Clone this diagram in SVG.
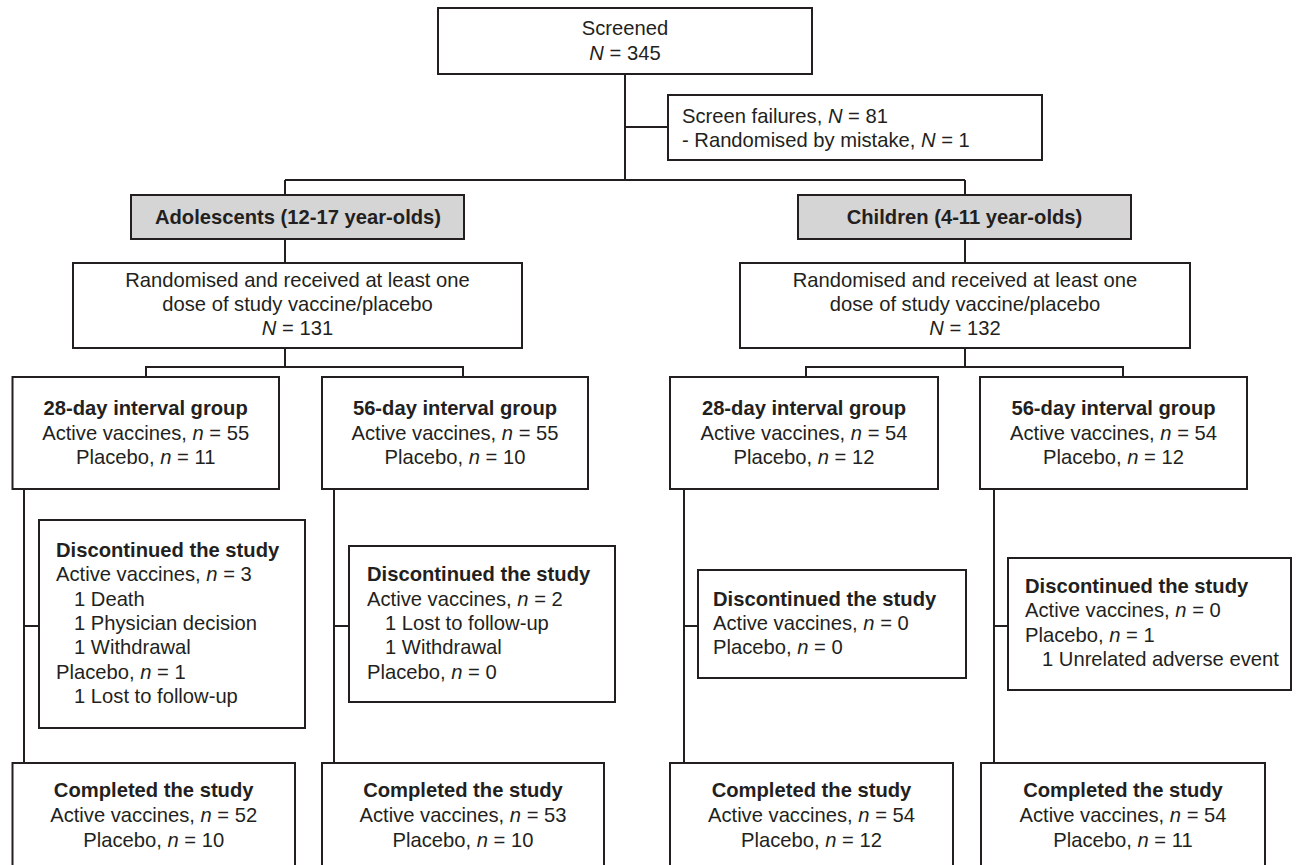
<svg xmlns="http://www.w3.org/2000/svg" width="1297" height="865" viewBox="0 0 1297 865">
<style>
.box{fill:#ffffff;stroke:#231f20;stroke-width:2}
.grey{fill:#d5d5d6;stroke:#231f20;stroke-width:2}
.ln{fill:none;stroke:#231f20;stroke-width:2}
text{font-family:"Liberation Sans",Arial,sans-serif;font-size:20.2px;fill:#231f20}
.c{text-anchor:middle}
.b{font-weight:bold}
.i{font-style:italic}
</style>
<rect width="1297" height="865" fill="#ffffff"/>
<g id="connectors">
<path class="ln" d="M625,74V180M625,127H668M285,180H965M285,180V195M965,180V195"/>
<path class="ln" d="M285,239V263M965,239V263M285,348V367M965,348V367"/>
<path class="ln" d="M146,377V367H463V377M806,377V367H1123V377"/>
<path class="ln" d="M24,489V763M334,489V763M684,489V763M994,489V763"/>
<path class="ln" d="M24,626H39M334,626H349M684,626H698M994,626H1008"/>
</g>
<g id="screened">
<rect class="box" x="438" y="8" width="374" height="66"/>
<text class="c" x="625" y="35">Screened</text>
<text class="c" x="625" y="60"><tspan class="i">N</tspan> = 345</text>
</g>
<g id="screen-failures">
<rect class="box" x="668" y="95" width="374" height="65"/>
<text x="682" y="123">Screen failures, <tspan class="i">N</tspan> = 81</text>
<text x="682" y="147">- Randomised by mistake, <tspan class="i">N</tspan> = 1</text>
</g>
<g id="adolescents">
<rect class="grey" x="131" y="195" width="333" height="44"/>
<text class="c b" x="298" y="224">Adolescents (12-17 year-olds)</text>
</g>
<g id="children">
<rect class="grey" x="798" y="195" width="333" height="44"/>
<text class="c b" x="964.5" y="224">Children (4-11 year-olds)</text>
</g>
<g id="randomised-adolescents">
<rect class="box" x="73" y="263" width="449" height="85"/>
<text class="c" x="297.5" y="287">Randomised and received at least one</text>
<text class="c" x="297.5" y="311">dose of study vaccine/placebo</text>
<text class="c" x="297.5" y="335"><tspan class="i">N</tspan> = 131</text>
</g>
<g id="randomised-children">
<rect class="box" x="740" y="263" width="450" height="85"/>
<text class="c" x="965" y="287">Randomised and received at least one</text>
<text class="c" x="965" y="311">dose of study vaccine/placebo</text>
<text class="c" x="965" y="335"><tspan class="i">N</tspan> = 132</text>
</g>
<g id="adol-28">
<rect class="box" x="12.5" y="377" width="266.5" height="112"/>
<text class="c b" x="145.7" y="415">28-day interval group</text>
<text class="c" x="145.7" y="440">Active vaccines, <tspan class="i">n</tspan> = 55</text>
<text class="c" x="145.7" y="464">Placebo, <tspan class="i">n</tspan> = 11</text>
</g>
<g id="adol-56">
<rect class="box" x="322" y="377" width="266" height="112"/>
<text class="c b" x="455" y="415">56-day interval group</text>
<text class="c" x="455" y="440">Active vaccines, <tspan class="i">n</tspan> = 55</text>
<text class="c" x="455" y="464">Placebo, <tspan class="i">n</tspan> = 10</text>
</g>
<g id="child-28">
<rect class="box" x="670" y="377" width="268" height="112"/>
<text class="c b" x="804" y="415">28-day interval group</text>
<text class="c" x="804" y="440">Active vaccines, <tspan class="i">n</tspan> = 54</text>
<text class="c" x="804" y="464">Placebo, <tspan class="i">n</tspan> = 12</text>
</g>
<g id="child-56">
<rect class="box" x="980" y="377" width="267" height="112"/>
<text class="c b" x="1113.5" y="415">56-day interval group</text>
<text class="c" x="1113.5" y="440">Active vaccines, <tspan class="i">n</tspan> = 54</text>
<text class="c" x="1113.5" y="464">Placebo, <tspan class="i">n</tspan> = 12</text>
</g>
<g id="disc-adol-28">
<rect class="box" x="39" y="520" width="266" height="208"/>
<text class="b" x="56" y="557">Discontinued the study</text>
<text x="56" y="581">Active vaccines, <tspan class="i">n</tspan> = 3</text>
<text x="74" y="606">1 Death</text>
<text x="74" y="630">1 Physician decision</text>
<text x="74" y="654">1 Withdrawal</text>
<text x="56" y="679">Placebo, <tspan class="i">n</tspan> = 1</text>
<text x="74" y="703">1 Lost to follow-up</text>
</g>
<g id="disc-adol-56">
<rect class="box" x="349" y="546" width="266" height="156"/>
<text class="b" x="367" y="581">Discontinued the study</text>
<text x="367" y="606">Active vaccines, <tspan class="i">n</tspan> = 2</text>
<text x="385" y="630">1 Lost to follow-up</text>
<text x="385" y="654">1 Withdrawal</text>
<text x="367" y="679">Placebo, <tspan class="i">n</tspan> = 0</text>
</g>
<g id="disc-child-28">
<rect class="box" x="698" y="570" width="268" height="108"/>
<text class="b" x="713" y="606">Discontinued the study</text>
<text x="713" y="630">Active vaccines, <tspan class="i">n</tspan> = 0</text>
<text x="713" y="654">Placebo, <tspan class="i">n</tspan> = 0</text>
</g>
<g id="disc-child-56">
<rect class="box" x="1008" y="558" width="283" height="132"/>
<text class="b" x="1025" y="593">Discontinued the study</text>
<text x="1025" y="617">Active vaccines, <tspan class="i">n</tspan> = 0</text>
<text x="1025" y="642">Placebo, <tspan class="i">n</tspan> = 1</text>
<text x="1042" y="666">1 Unrelated adverse event</text>
</g>
<g id="comp-adol-28">
<rect class="box" x="12.5" y="763" width="282.5" height="110"/>
<text class="c b" x="153.7" y="797">Completed the study</text>
<text class="c" x="153.7" y="822">Active vaccines, <tspan class="i">n</tspan> = 52</text>
<text class="c" x="153.7" y="847">Placebo, <tspan class="i">n</tspan> = 10</text>
</g>
<g id="comp-adol-56">
<rect class="box" x="322" y="763" width="282" height="110"/>
<text class="c b" x="463" y="797">Completed the study</text>
<text class="c" x="463" y="822">Active vaccines, <tspan class="i">n</tspan> = 53</text>
<text class="c" x="463" y="847">Placebo, <tspan class="i">n</tspan> = 10</text>
</g>
<g id="comp-child-28">
<rect class="box" x="670" y="763" width="283" height="110"/>
<text class="c b" x="811.5" y="797">Completed the study</text>
<text class="c" x="811.5" y="822">Active vaccines, <tspan class="i">n</tspan> = 54</text>
<text class="c" x="811.5" y="847">Placebo, <tspan class="i">n</tspan> = 12</text>
</g>
<g id="comp-child-56">
<rect class="box" x="981" y="763" width="284" height="110"/>
<text class="c b" x="1123" y="797">Completed the study</text>
<text class="c" x="1123" y="822">Active vaccines, <tspan class="i">n</tspan> = 54</text>
<text class="c" x="1123" y="847">Placebo, <tspan class="i">n</tspan> = 11</text>
</g>
</svg>
